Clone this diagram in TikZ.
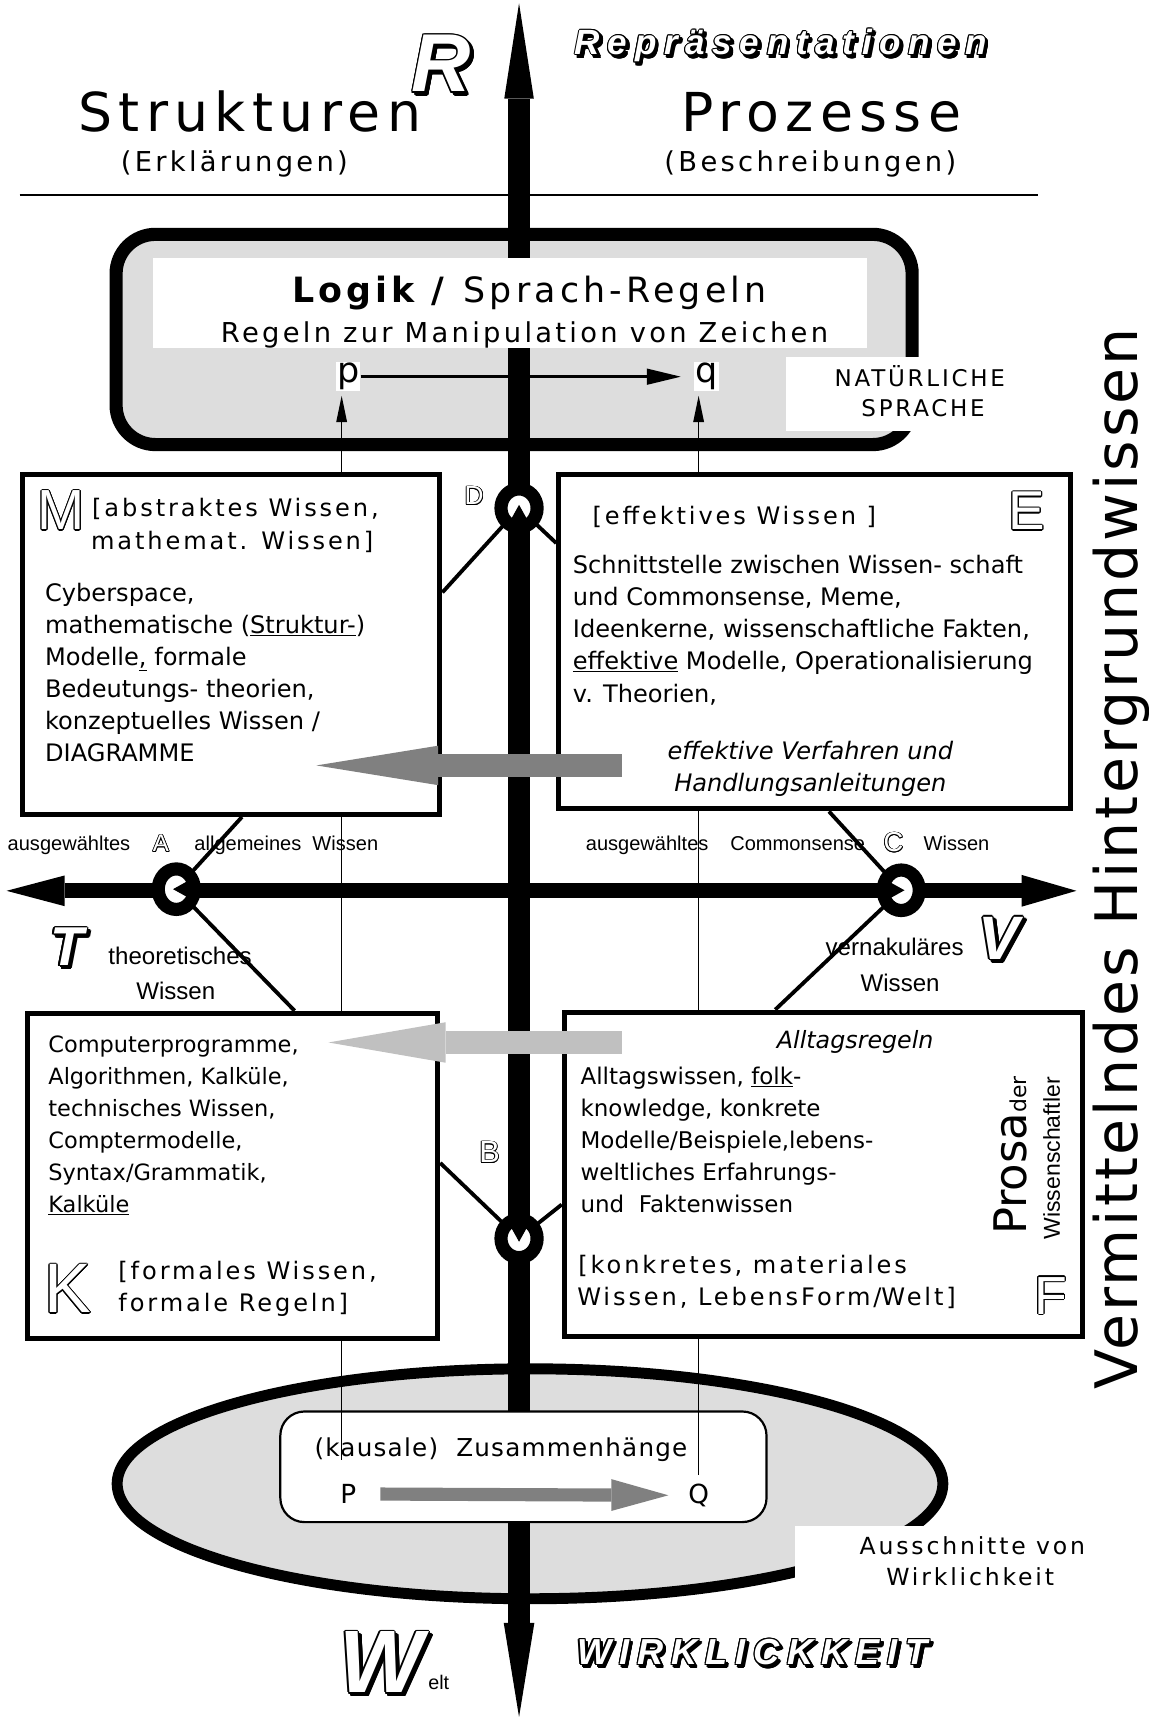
\documentclass[tikz,border=0pt]{standalone}
\usepackage{fontspec}
\setmainfont{DejaVu Sans}
\newfontfamily\widesans[LetterSpace=12]{DejaVu Sans}
\newfontfamily\loosesans[LetterSpace=5]{DejaVu Sans}
\newfontfamily\helv{Liberation Sans}
\newfontfamily\widehelv[LetterSpace=22]{Liberation Sans}
\usetikzlibrary{calc}
\usetikzlibrary{arrows.meta}
\usetikzlibrary{shapes.geometric}
\usetikzlibrary{backgrounds}
\definecolor{boxgray}{RGB}{221,221,221}
\definecolor{arrowdark}{RGB}{128,128,128}
\definecolor{arrowlight}{RGB}{192,192,192}
\newcommand{\fs}[1]{\fontsize{#1}{#1}\selectfont}
% white letter with a black outline
\newcommand{\hollow}[5][1]{%
  \foreach \ang in {0,30,...,330}
    \node[#4, text=black] at ($(#3)+(\ang:#1)$) {#5};
  \node[#4, text=white] (#2) at (#3) {#5};}
% the same with a black drop shadow
\newcommand{\shadowed}[5][1]{%
  \foreach \ang in {0,30,...,330}
    \node[#4, text=black] at ($(#3)+(2.5,2.5)+(\ang:#1)$) {#5};
  \hollow[#1]{#2}{#3}{#4}{#5}}
\newcommand{\notch}[2]{\fill[shift={(#1.center)}, rotate=#2] (-15,-10) -- (3,0) -- (-15,10) -- cycle;}
\tikzset{
    knowbox/.style={draw, line width=4.5pt, fill=white, inner sep=0pt},
    knotring/.style={ellipse, draw, line width=12pt, fill=white, inner sep=0pt, minimum width=33pt, minimum height=35pt},
    spoke/.style={line width=3.5pt},
    feeder/.style={line width=1.3pt, shorten >=4pt, -{Triangle[length=24pt, width=10pt, line width=0pt]}},
    vaxis/.style={line width=20pt, {Triangle[length=87pt, width=27pt, line width=0pt]}-{Triangle[length=86pt, width=28pt, line width=0pt]}},
    haxis/.style={line width=14pt, {Triangle[length=53pt, width=28pt, line width=0pt]}-{Triangle[length=50pt, width=29pt, line width=0pt]}},
    darkarrow/.style={arrowdark, line width=21pt, -{Triangle[length=111pt, width=36pt, line width=0pt]}},
    lightarrow/.style={arrowlight, line width=21pt, -{Triangle[length=107pt, width=37pt, line width=0pt]}},
    causalarrow/.style={arrowdark, line width=12pt, -{Triangle[length=52pt, width=29pt, line width=0pt]}},
    txt/.style={anchor=base, inner sep=0pt},
    bodyline/.style={anchor=base west, inner sep=0pt},
    heading/.style={anchor=base west, inner sep=0pt, font=\widesans\fs{22}},
    axislabel/.style={txt, font=\helv\fs{18.3}},
    letter/.style={anchor=base, inner sep=0pt},
    mask/.style={fill=white, inner sep=0pt}
}
\begin{document}
\begin{tikzpicture}[x=1pt, y=-1pt]
    \useasboundingbox (0,0) rectangle (1049,1568);

    % header
    \coordinate (ruleL) at (18,178);
    \coordinate (ruleR) at (948,178);
    \draw[line width=2pt] (ruleL) -- (ruleR);
    \node[txt, font=\widesans\fs{49}] (struct) at (228,120) {Strukturen};
    \node[txt, font=\widesans\fs{49}] (proz) at (750,120) {Prozesse};
    \node[txt, font=\widesans\fs{25}] (erkl) at (214,157) {(Erklärungen)};
    \node[txt, font=\widesans\fs{25}] (beschr) at (740,157) {(Beschreibungen)};

    % Logik box and Welt ellipse
    \node[draw, line width=12pt, rounded corners=36pt, fill=boxgray, minimum width=727pt, minimum height=192pt, inner sep=0pt] (logicbox) at (469.5,310) {};
    \node[ellipse, draw, line width=10pt, fill=boxgray, minimum width=754pt, minimum height=210pt, inner sep=0pt] (welt) at (484,1355) {};

    % axes
    \coordinate (rtop) at (474,3);
    \coordinate (wbot) at (474,1568);
    \draw[vaxis] (rtop) -- (wbot);
    \coordinate (tleft) at (6,813.5);
    \coordinate (vright) at (983,813.5);
    \draw[haxis] (tleft) -- (vright);

    \node[mask, minimum width=652pt, minimum height=82pt] (logictitle) at (466,277) {};
    \node[txt, font=\widesans\fs{31.8}] (logik) at (483.5,276) {\textbf{Logik /} Sprach-Regeln};
    \node[txt, font=\widesans\fs{25}] (zeichen) at (479,313) {Regeln zur Manipulation von Zeichen};

    \node[draw, line width=2pt, rounded corners=22pt, fill=white, minimum width=444pt, minimum height=101pt, inner sep=0pt] (kausal) at (478,1339.5) {};
    \node[txt, font=\loosesans\fs{22.5}] (zusammen) at (457.5,1330) {(kausale)~~Zusammenhänge};
    \node[txt, font=\fs{24}] (P) at (318,1373) {P};
    \node[txt, font=\fs{24}] (Q) at (638,1373) {Q};
    \draw[causalarrow, shorten <=22pt, shorten >=18pt] (P) -- (Q);

    \node[fill=white, inner sep=1pt, font=\fs{32}] (p) at (318,344) {p};
    \node[fill=white, inner sep=1pt, font=\fs{32}] (q) at (645,344) {q};
    \draw[line width=2.5pt, shorten >=12pt, -{Triangle[length=31pt, width=15pt, line width=0pt]}] (p) -- (q);

    \coordinate (pfoot) at (312,1333);
    \coordinate (qfoot) at (638,1347);
    \draw[feeder] (pfoot) -- (pfoot |- p.south);
    \draw[feeder] (qfoot) -- (qfoot |- q.south);

    % knowledge boxes
    \node[knowbox, minimum width=381.5pt, minimum height=310.5pt] (mbox) at (211,588.5) {};
    \node[knowbox, minimum width=467.5pt, minimum height=305.5pt] (ebox) at (744,586) {};
    \node[knowbox, minimum width=374.5pt, minimum height=297.5pt] (kbox) at (212.5,1074) {};
    \node[knowbox, minimum width=473.5pt, minimum height=296.5pt] (fbox) at (752,1072.5) {};

    % crossings
    \node[knotring] (ringD) at (474,464) {};
    \notch{ringD}{90}
    \node[knotring, minimum height=37pt] (ringA) at (161,812) {};
    \notch{ringA}{180}
    \node[knotring, minimum height=37pt] (ringC) at (823,813) {};
    \notch{ringC}{0}
    \node[knotring] (ringB) at (474,1131) {};
    \notch{ringB}{270}

    \begin{pgfonlayer}{background}
        \draw[spoke] (ringD.center) -- (mbox.east |- 0,541);
        \draw[spoke] (ringD.center) -- (ebox.west |- 0,496);
        \draw[spoke] (ringA.center) -- (221,0 |- mbox.south);
        \draw[spoke] (ringA.center) -- (269,0 |- kbox.north);
        \draw[spoke] (ringC.center) -- (757,0 |- ebox.south);
        \draw[spoke] (ringC.center) -- (708,0 |- fbox.north);
        \draw[spoke] (ringB.center) -- (kbox.east |- 0,1062);
        \draw[spoke] (ringB.center) -- (fbox.west |- 0,1100);
    \end{pgfonlayer}

    % transfer arrows
    \coordinate (effstart) at (568,699);
    \coordinate (efftip) at (289,699);
    \draw[darkarrow] (effstart) -- (efftip);
    \coordinate (allstart) at (568,952);
    \coordinate (alltip) at (300,952);
    \draw[lightarrow] (allstart) -- (alltip);

    % labels on white patches
    \node[mask, minimum width=212pt, minimum height=68pt] (natmask) at (824,360) {};
    \node[txt, font=\widesans\fs{21}] (nat1) at (840,353) {NATÜRLICHE};
    \node[txt, font=\widesans\fs{21}] (nat2) at (843,380.5) {SPRACHE};
    \node[mask, minimum width=280pt, minimum height=80pt] (ausmask) at (866,1434) {};
    \node[txt, font=\widesans\fs{21.5}] (aus1) at (888,1420) {Ausschnitte von};
    \node[txt, font=\widesans\fs{21.5}] (aus2) at (886,1448) {Wirklichkeit};

    % M box
    \node[heading] (mhead1) at (84,472) {[abstraktes Wissen,};
    \node[heading] (mhead2) at (83,502) {mathemat. Wissen]};
    \foreach \t [count=\i from 0] in {{Cyberspace,}, {mathematische (\underline{Struktur-})}, {Modelle\underline{,} formale}, {Bedeutungs- theorien,}, {konzeptuelles Wissen \slash}, {DIAGRAMME}}
        \node[bodyline, font=\fs{22}] (mbody\i) at (41,549.5+29.2*\i) {\t};

    % E box
    \node[heading] (ehead) at (541,479) {[effektives Wissen ]};
    \foreach \t [count=\i from 0] in {{Schnittstelle zwischen Wissen- schaft}, {und Commonsense, Meme,}, {Ideenkerne, wissenschaftliche Fakten,}, {\underline{effektive} Modelle, Operationalisierung}, {v. Theorien,}}
        \node[bodyline, font=\fs{22}] (ebody\i) at (523,523.5+29.4*\i) {\t};
    \node[txt, font=\fs{22}\itshape] (verfahren) at (740,694) {effektive Verfahren und};
    \node[txt, font=\fs{22}\itshape] (handlung) at (740,723) {Handlungsanleitungen};

    % K box
    \foreach \t [count=\i from 0] in {{Computerprogramme,}, {Algorithmen, Kalküle,}, {technisches Wissen,}, {Comptermodelle,}, {Syntax\slash Grammatik,}, {\underline{Kalküle}}}
        \node[bodyline, font=\fs{20.5}] (kbody\i) at (44,961+29.2*\i) {\t};
    \node[heading] (khead1) at (108,1168.7) {[formales Wissen,};
    \node[heading] (khead2) at (108,1197.5) {formale Regeln]};

    % F box
    \node[txt, font=\fs{21.7}\itshape] (alltag) at (781,957.5) {Alltagsregeln};
    \foreach \t [count=\i from 0] in {{Alltagswissen, \underline{folk}-}, {knowledge, konkrete}, {Modelle\slash Beispiele,lebens-}, {weltliches Erfahrungs-}, {und~~Faktenwissen}}
        \node[bodyline, font=\fs{21}] (fbody\i) at (530,990+29.4*\i) {\t};
    \node[heading] (fhead1) at (528,1163) {[konkretes, materiales};
    \node[heading] (fhead2) at (527,1192.5) {Wissen, LebensForm\slash Welt]};
    \node[anchor=base west, rotate=90, inner sep=0pt] (prosa) at (937,1128) {\fs{41}Prosa\fs{20}der};
    \node[anchor=base west, rotate=90, inner sep=0pt, font=\helv\fs{21}] (wissler) at (968,1132) {Wissenschaftler};

    % axis labels
    \node[axislabel] (ausgA) at (63,777) {ausgewähltes};
    \node[axislabel] (allgA) at (261.5,777) {allgemeines~~Wissen};
    \node[axislabel] (ausgC) at (591,777) {ausgewähltes};
    \node[axislabel] (commC) at (728.5,777) {Commonsense};
    \node[axislabel] (wissC) at (873.5,777) {Wissen};
    \node[txt, font=\helv\fs{22}] (theo1) at (164.5,881) {theoretisches};
    \node[txt, font=\helv\fs{22}] (theo2) at (160.5,913) {Wissen};
    \node[txt, font=\helv\fs{22}] (vern1) at (817,873) {vernakuläres};
    \node[txt, font=\helv\fs{22}] (vern2) at (822,905) {Wissen};

    \node[anchor=base west, rotate=90, inner sep=0pt, font=\loosesans\fs{53.5}] (vermittelnd) at (1039,1269) {Vermittelndes Hintergrundwissen};

    % outlined letters
    \hollow{mlab}{56,484}{letter, font=\helv\fs{51.7}}{M}
    \hollow{elab}{938,484}{letter, font=\helv\fs{50}}{E}
    \hollow{klab}{62,1199}{letter, font=\helv\fs{64}}{K}
    \hollow{flab}{959.5,1200}{letter, font=\helv\fs{49}}{F}
    \hollow[0.7]{alab}{147,778}{letter, font=\helv\fs{22}}{A}
    \hollow[0.7]{clab}{816,778}{letter, font=\helv\fs{25}}{C}
    \hollow[0.7]{dlab}{433,461}{letter, font=\helv\fs{24}}{D}
    \hollow[0.7]{blab}{447,1062}{letter, font=\helv\fs{28}}{B}

    \shadowed{repr}{713,50}{letter, font=\widehelv\bfseries\itshape\fs{32}}{Repräsentationen}
    \shadowed[1.2]{rlab}{403,84}{letter, font=\helv\bfseries\itshape\fs{75}}{R}
    \shadowed[1.2]{tlab}{61,882}{letter, font=\helv\bfseries\itshape\fs{50}}{T}
    \shadowed[1.2]{vlab}{912,876}{letter, font=\helv\bfseries\itshape\fs{56}}{V}
    \shadowed[1.2]{wlab}{348,1546}{letter, font=\helv\bfseries\itshape\fs{81}}{W}
    \node[anchor=base west, inner sep=0pt, font=\helv\fs{18}] (elt) at (391,1543) {elt};
    \shadowed{wirk}{687,1520}{letter, font=\widehelv\bfseries\itshape\fs{33}}{WIRKLICKKEIT}
\end{tikzpicture}
\end{document}
